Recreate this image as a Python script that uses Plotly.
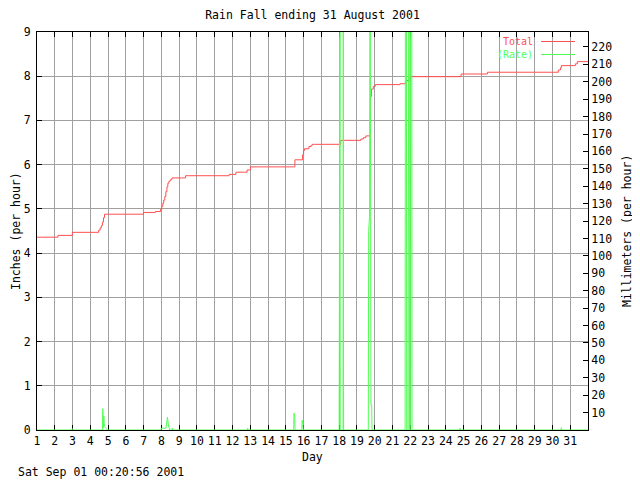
import plotly.graph_objects as go

# ---------------- data ----------------
title_text = "Rain Fall ending 31 August 2001"
timestamp_text = "Sat Sep 01 00:20:56 2001"
day_ticks = list(range(1, 32))
inch_ticks = list(range(0, 10))
mm_ticks = list(range(10, 230, 10))

# cumulative rainfall (inches), step line
total_days = [1.0, 2.18, 2.99, 4.47, 4.55, 4.62, 4.68, 4.74, 4.80, 6.99, 7.67, 7.95,
              8.02, 8.08, 8.13, 8.19, 8.25, 8.31, 8.36, 8.42, 8.47, 8.53, 8.60,
              9.36, 11.81, 12.19, 12.82, 13.01, 15.51, 15.94, 16.0, 16.05, 16.3,
              16.42, 16.5, 18.09, 19.22, 19.36, 19.5, 19.75, 19.76, 19.81, 19.92,
              20.03, 21.42, 21.76, 21.98, 22.04, 24.86, 26.34, 30.33, 30.45, 30.5,
              31.29, 31.4, 32.0]
total_inches = [4.36, 4.40, 4.47, 4.52, 4.57, 4.62, 4.70, 4.80, 4.88, 4.92, 4.94, 4.99,
                5.06, 5.13, 5.20, 5.28, 5.39, 5.50, 5.58, 5.62, 5.64, 5.67, 5.70,
                5.75, 5.78, 5.83, 5.88, 5.95, 6.11, 6.22, 6.32, 6.36, 6.41,
                6.44, 6.46, 6.55, 6.58, 6.61, 6.65, 7.00, 7.54, 7.71, 7.77,
                7.81, 7.83, 7.90, 7.97, 7.99, 8.05, 8.09, 8.14, 8.19, 8.24,
                8.28, 8.33, 8.33]

# rainfall rate (inches per hour); values above 9 run off the top of the chart
rate_days = [1.0, 2.95, 2.99, 3.05,
             4.69, 4.70, 4.73, 4.76, 4.79, 4.85, 4.92, 4.95,
             7.98, 8.0, 8.25, 8.28, 8.34, 8.38, 8.42, 8.46, 8.60, 8.62, 8.64,
             12.84, 12.86, 12.88,
             15.44, 15.46, 15.50, 15.52, 15.90, 15.92, 15.96, 15.98,
             18.0, 18.01, 18.05, 18.06, 18.22, 18.23, 18.25,
             19.64, 19.66, 19.71, 19.72, 19.74, 19.79, 19.83, 19.85,
             21.71, 21.73, 21.78, 21.80, 21.88, 21.89, 21.93, 21.96,
             22.00, 22.01, 22.08, 22.10,
             24.78, 24.80, 24.82,
             30.48, 30.50, 30.52, 32.0]
rate_inches = [0, 0, 0.03, 0,
               0, 0.48, 0.05, 0.32, 0.08, 0.05, 0.02, 0,
               0, 0.04, 0.04, 0.15, 0.29, 0.15, 0.04, 0, 0, 0.04, 0,
               0, 0.04, 0,
               0, 0.38, 0.30, 0, 0, 0.22, 0.15, 0,
               0, 12, 12, 0, 0, 12, 0,
               0, 4.49, 4.83, 12, 12, 0.57, 0.57, 0,
               0, 12, 12, 0, 0, 4.5, 12, 0,
               0, 12, 12, 0,
               0, 0.04, 0,
               0, 0.05, 0, 0]

# ---------------- styling ----------------
RED = "#ff5050"
GREEN = "#50ff50"
GRID = "#a0a0a0"
FONT = "DejaVu Sans Mono"
FS = 11.5
LEG_FS = 10

# the page body has an 8px margin: figure coords = page coords - 8
OFF = 8
W, H = 632, 472
L, T = 37 - OFF, 32 - OFF
R = W - (588 - OFF)
B = H - (430 - OFF)
pw, ph = W - L - R, H - T - B

def px(xp):  # page pixel x -> paper
    return (xp - OFF - L) / pw

def py(yp):  # page pixel y -> paper
    return (H - B - (yp - OFF)) / ph

fig = go.Figure()
fig.add_trace(go.Scatter(x=total_days, y=total_inches, mode="lines", name="Total",
                         line=dict(color=RED, width=1, shape="hv"), showlegend=False))
fig.add_trace(go.Scatter(x=rate_days, y=rate_inches, mode="lines", name="(Rate)",
                         line=dict(color=GREEN, width=1), showlegend=False))
# invisible trace for the millimetre axis
fig.add_trace(go.Scatter(x=[1], y=[0], yaxis="y2", mode="lines", showlegend=False,
                         hoverinfo="skip", line=dict(width=0)))

fig.update_layout(
    width=W, height=H,
    margin=dict(l=L, r=R, t=T, b=B, pad=0),
    paper_bgcolor="white", plot_bgcolor="white",
    font=dict(family=FONT, size=FS, color="black"),
    title=dict(text=title_text, x=0.5, xref="paper", xanchor="center",
               y=1 - (15 - OFF) / H, yref="container", yanchor="middle",
               font=dict(family=FONT, size=FS, color="black")),
    xaxis=dict(range=[1, 32], tickvals=day_ticks, ticktext=[str(d) for d in day_ticks],
               showgrid=True, gridcolor=GRID, gridwidth=1, zeroline=False,
               ticks="inside", ticklen=5, tickcolor="black", tickwidth=1,
               showline=True, linecolor="black", linewidth=1, mirror="ticks",
               layer="below traces", tickfont=dict(family=FONT, size=FS)),
    yaxis=dict(range=[0, 9], tickvals=inch_ticks, showgrid=True, gridcolor=GRID,
               gridwidth=1, zeroline=False, ticks="inside", ticklen=5,
               tickcolor="black", showline=True, linecolor="black", linewidth=1,
               layer="below traces", ticklabelstandoff=3,
               tickfont=dict(family=FONT, size=FS)),
    yaxis2=dict(range=[0, 9 * 25.4], tickvals=mm_ticks, overlaying="y", side="right",
                showgrid=False, zeroline=False, ticks="inside", ticklen=5,
                tickcolor="black", showline=True, linecolor="black", linewidth=1,
                tickfont=dict(family=FONT, size=FS)),
    showlegend=False,
)

# legend box (white, covering grid) and entries
fig.add_shape(type="rect", xref="paper", yref="paper", x0=px(488), x1=px(587),
              y0=py(60), y1=py(37), fillcolor="white", line=dict(width=0),
              layer="between")
for label, color, yp in [("Total", RED, 41.5), ("(Rate)", GREEN, 54.5)]:
    fig.add_annotation(text=label, xref="paper", yref="paper", x=px(534), y=py(yp),
                       xanchor="right", yanchor="middle", showarrow=False,
                       borderpad=0,
                       font=dict(family=FONT, size=LEG_FS, color=color))
    fig.add_shape(type="line", xref="paper", yref="paper", x0=px(541), x1=px(575),
                  y0=py(yp), y1=py(yp), line=dict(color=color, width=1))

# axis titles and timestamp
fig.add_annotation(text="Day", xref="paper", yref="paper", x=px(312), y=py(457),
                   xanchor="center", yanchor="middle", showarrow=False)
fig.add_annotation(text="Inches (per hour)", xref="paper", yref="paper",
                   x=px(16), y=py(231), textangle=-90, xanchor="center",
                   yanchor="middle", showarrow=False, borderpad=0)
fig.add_annotation(text="Millimeters (per hour)", xref="paper", yref="paper",
                   x=px(627), y=py(231), textangle=-90, xanchor="center",
                   yanchor="middle", showarrow=False)
fig.add_annotation(text=timestamp_text, xref="paper", yref="paper",
                   x=px(16), y=py(472), xanchor="left", yanchor="middle",
                   showarrow=False)

fig.write_html("out.html")
